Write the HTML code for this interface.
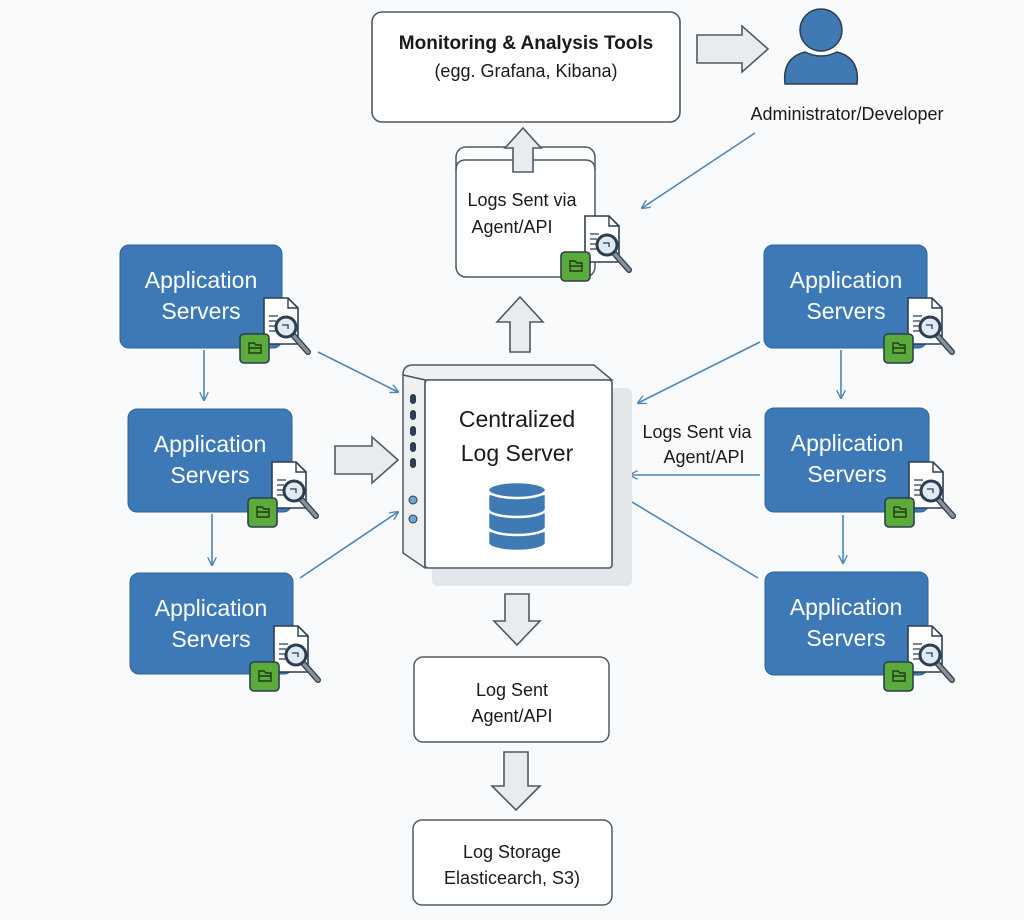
<!DOCTYPE html>
<html><head><meta charset="utf-8"><style>
html,body{margin:0;padding:0;background:#f9fafb;}
svg{display:block;font-family:"Liberation Sans",sans-serif;}
</style></head><body>
<svg width="1024" height="920" viewBox="0 0 1024 920">
<defs>
<marker id="ah" viewBox="0 0 10 10" refX="9" refY="5" markerWidth="9" markerHeight="9" orient="auto-start-reverse" markerUnits="userSpaceOnUse"><path d="M0,0 L10,5 L0,10" fill="none" stroke="#4a86b8" stroke-width="1.5"/></marker>
<g id="ic">
<path d="M0,0 H24 L34,10 V46 H0 Z" fill="#fff" stroke="#2c3e50" stroke-width="1.6"/>
<path d="M24,0 V10 H34" fill="none" stroke="#2c3e50" stroke-width="1.4"/>
<path d="M5,18 H14 M5,23 H12 M5,28 H12 M5,33 H14" stroke="#2c3e50" stroke-width="1.3"/>
<line x1="29" y1="37" x2="44" y2="54" stroke="#2c3e50" stroke-width="6" stroke-linecap="round"/>
<line x1="29" y1="37" x2="44" y2="54" stroke="#8a9299" stroke-width="3.5" stroke-linecap="round"/>
<circle cx="22" cy="29" r="10" fill="#dfeaf3" stroke="#2c3e50" stroke-width="3"/>
<path d="M18,27 H24 V31" fill="none" stroke="#2c3e50" stroke-width="1.3"/>
<rect x="-24" y="36" width="29" height="29" rx="4" fill="#5aab3c" stroke="#2c3e50" stroke-width="1.6"/>
<path d="M-15,45 H-10 L-8,47 H-3 V55 H-15 Z M-15,50 H-3" fill="none" stroke="#1f3b14" stroke-width="1.4"/>
</g>
</defs>

<g stroke="#4a86b8" stroke-width="1.6" fill="none" marker-end="url(#ah)">
<line x1="204" y1="350" x2="204" y2="400"/>
<line x1="212" y1="514" x2="212" y2="565"/>
<line x1="318" y1="352" x2="398" y2="392"/>
<line x1="300" y1="578" x2="398" y2="512"/>
<line x1="841" y1="350" x2="841" y2="398"/>
<line x1="843" y1="515" x2="843" y2="563"/>
<line x1="760" y1="342" x2="638" y2="403"/>
<line x1="760" y1="475" x2="630" y2="475"/>
<line x1="755" y1="133" x2="642" y2="208"/>
</g>
<line x1="758" y1="578" x2="632" y2="502" stroke="#4a86b8" stroke-width="1.6"/>

<!-- monitoring -->
<rect x="372" y="12" width="308" height="110" rx="10" fill="#fff" stroke="#4d5a66" stroke-width="1.6"/>
<text x="526" y="49" text-anchor="middle" font-size="19" font-weight="bold" fill="#1a1a1a">Monitoring &amp; Analysis Tools</text>
<text x="526" y="77" text-anchor="middle" font-size="18" fill="#1a1a1a">(egg. Grafana, Kibana)</text>

<circle cx="821" cy="30" r="21" fill="#3f7ab5" stroke="#2c3e50" stroke-width="1.5"/>
<path d="M785,84 Q782,58 805,52 Q821,60 837,52 Q860,58 857,84 Z" fill="#3f7ab5" stroke="#2c3e50" stroke-width="1.5"/>
<text x="847" y="120" text-anchor="middle" font-size="18" fill="#1a1a1a">Administrator/Developer</text>

<!-- logs sent top -->
<rect x="456" y="147" width="139" height="130" rx="10" fill="#fff" stroke="#4d5a66" stroke-width="1.5"/>
<path d="M456,170 Q456,160 466,160 H585 Q595,160 595,170" fill="none" stroke="#4d5a66" stroke-width="1.5"/>
<text x="522" y="206" text-anchor="middle" font-size="18" fill="#1a1a1a">Logs Sent via</text>
<text x="512" y="233" text-anchor="middle" font-size="18" fill="#1a1a1a">Agent/API</text>
<use href="#ic" transform="translate(585,216)"/>

<g fill="#e9ecef" stroke="#4d5a66" stroke-width="1.6">
<path d="M697,35 H742 V26 L768,49 L742,72 V63 H697 Z"/>
<path d="M513,172 V148 H505 L523,128 L541,148 H533 V172 Z"/>
<path d="M510,352 V322 H497 L520,297 L543,322 H530 V352 Z"/>
<path d="M335,446 H372 V437 L398,460 L372,483 V474 H335 Z"/>
<path d="M505,594 H529 V621 H540 L517,645 L494,621 H505 Z"/>
<path d="M504,752 H528 V786 H540 L516,810 L492,786 H504 Z"/>
</g>

<!-- server -->
<rect x="432" y="388" width="200" height="198" fill="#e4e7ea" rx="6"/>
<path d="M403,375 Q403,365 413,365 H594 L612,380 H425 Z" fill="#eef0f2" stroke="#4d5a66" stroke-width="1.5"/>
<path d="M403,375 L425,380 V568 L403,553 Z" fill="#eef0f2" stroke="#4d5a66" stroke-width="1.5"/>
<rect x="425" y="380" width="187" height="188" rx="3" fill="#fff" stroke="#4d5a66" stroke-width="1.6"/>
<g fill="#2c3e50">
<rect x="410" y="394" width="6" height="10" rx="3"/><rect x="410" y="410" width="6" height="10" rx="3"/>
<rect x="410" y="426" width="6" height="10" rx="3"/><rect x="410" y="442" width="6" height="10" rx="3"/>
<rect x="410" y="458" width="6" height="10" rx="3"/>
</g>
<circle cx="413" cy="500" r="4" fill="#6fa3d6" stroke="#2c3e50"/>
<circle cx="413" cy="519" r="4" fill="#6fa3d6" stroke="#2c3e50"/>
<text x="517" y="427" text-anchor="middle" font-size="23" fill="#1a1a1a">Centralized</text>
<text x="517" y="461" text-anchor="middle" font-size="23" fill="#1a1a1a">Log Server</text>
<g fill="#3f7ab5" stroke="#fff" stroke-width="2.5">
<path d="M488,531 V543 A29,8 0 0 0 546,543 V531 Z"/>
<path d="M488,512 V527 A29,8 0 0 0 546,527 V512 Z"/>
<path d="M488,494 V509 A29,8 0 0 0 546,509 V494 Z"/>
<ellipse cx="517" cy="490" rx="29" ry="8"/>
</g>

<text x="697" y="438" text-anchor="middle" font-size="18" fill="#1a1a1a">Logs Sent via</text>
<text x="704" y="463" text-anchor="middle" font-size="18" fill="#1a1a1a">Agent/API</text>

<g fill="#3c79b6" stroke="#2f6296" stroke-width="1">
<rect x="120" y="245" width="162" height="103" rx="9"/>
<rect x="128" y="409" width="164" height="103" rx="9"/>
<rect x="130" y="573" width="163" height="101" rx="9"/>
<rect x="764" y="245" width="163" height="103" rx="9"/>
<rect x="765" y="408" width="164" height="104" rx="9"/>
<rect x="765" y="572" width="163" height="103" rx="9"/>
</g>
<g fill="#fff" font-size="23" text-anchor="middle">
<text x="201" y="288">Application</text><text x="201" y="319">Servers</text>
<text x="210" y="452">Application</text><text x="210" y="483">Servers</text>
<text x="211" y="616">Application</text><text x="211" y="647">Servers</text>
<text x="846" y="288">Application</text><text x="846" y="319">Servers</text>
<text x="847" y="451">Application</text><text x="847" y="482">Servers</text>
<text x="846" y="615">Application</text><text x="846" y="646">Servers</text>
</g>
<use href="#ic" transform="translate(264,298)"/>
<use href="#ic" transform="translate(272,462)"/>
<use href="#ic" transform="translate(274,626)"/>
<use href="#ic" transform="translate(908,298)"/>
<use href="#ic" transform="translate(909,462)"/>
<use href="#ic" transform="translate(908,626)"/>

<rect x="414" y="657" width="195" height="85" rx="9" fill="#fff" stroke="#4d5a66" stroke-width="1.5"/>
<text x="512" y="696" text-anchor="middle" font-size="18" fill="#1a1a1a">Log Sent</text>
<text x="512" y="722" text-anchor="middle" font-size="18" fill="#1a1a1a">Agent/API</text>
<rect x="413" y="820" width="199" height="85" rx="9" fill="#fff" stroke="#4d5a66" stroke-width="1.5"/>
<text x="512" y="858" text-anchor="middle" font-size="18" fill="#1a1a1a">Log Storage</text>
<text x="512" y="884" text-anchor="middle" font-size="18" fill="#1a1a1a">Elasticearch, S3)</text>
</svg>
</body></html>
